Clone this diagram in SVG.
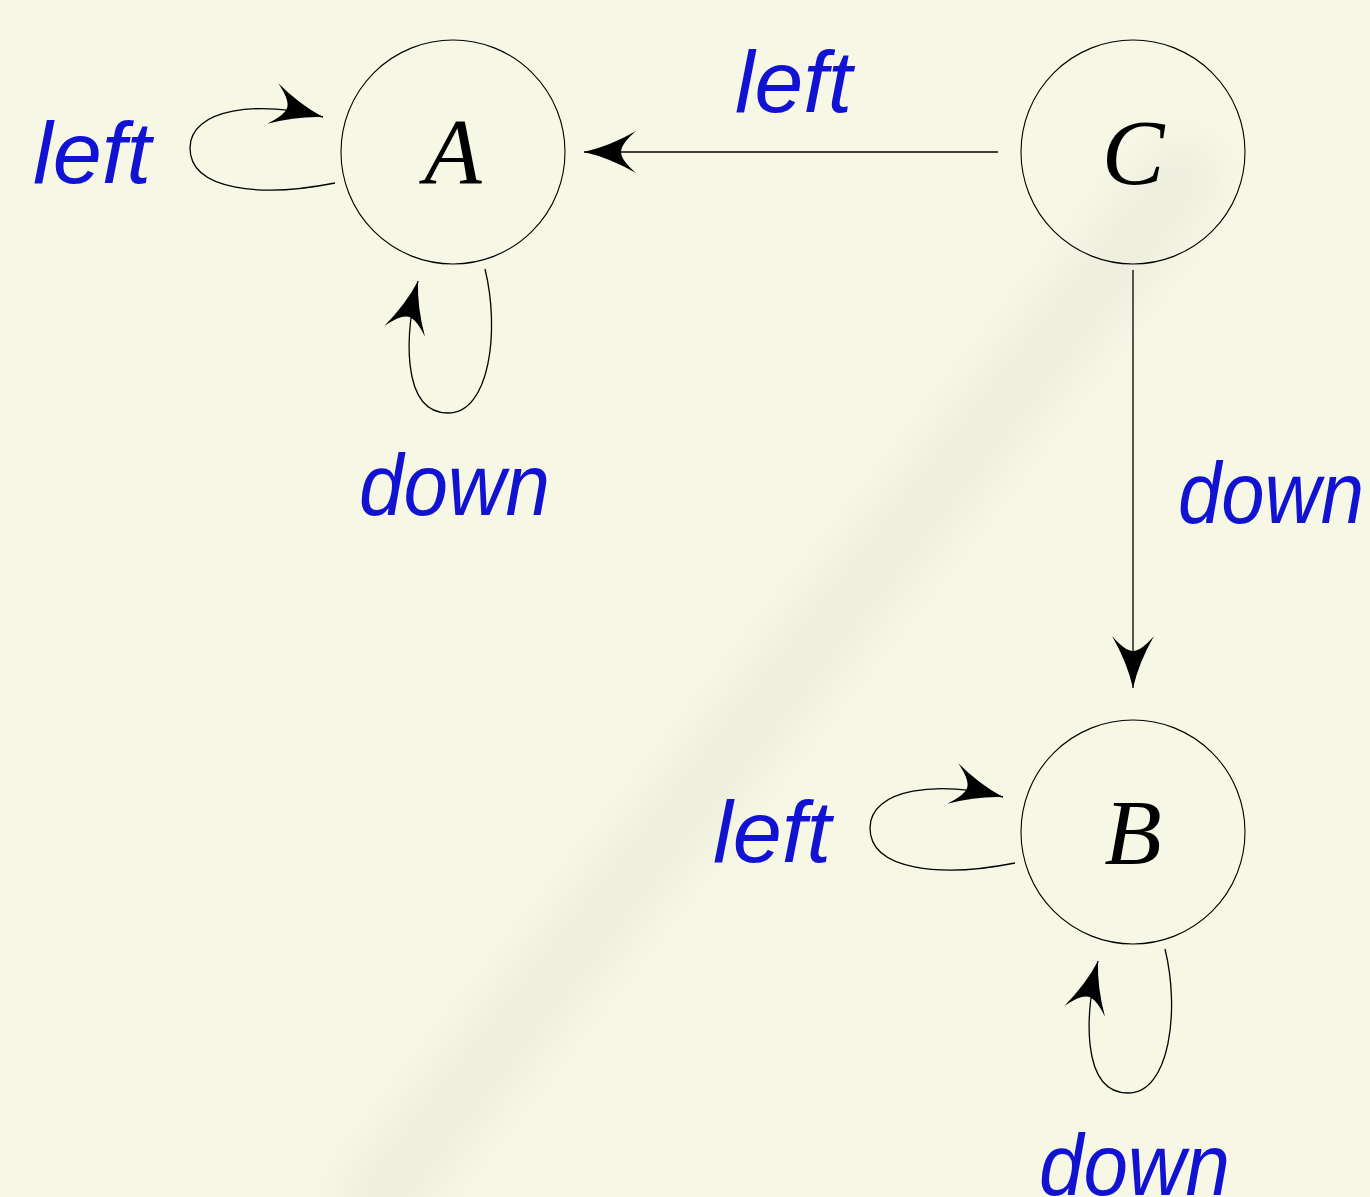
<svg xmlns="http://www.w3.org/2000/svg" width="1370" height="1197" viewBox="0 0 1370 1197">
<style>
.node{fill:none;stroke:#000;stroke-width:1.1}
.edge{fill:none;stroke:#000;stroke-width:1.3}
.lbl{font-family:"Liberation Sans","DejaVu Sans",sans-serif;font-style:italic;font-size:88px;fill:#1212D2}
.math{font-family:"Liberation Serif","DejaVu Serif",serif;font-style:italic;font-size:94px;fill:#000;text-anchor:middle}
</style>
<defs>
<marker id="ah" viewBox="-56 -25 60 50" markerWidth="60" markerHeight="50" refX="0" refY="0" orient="auto" markerUnits="userSpaceOnUse">
<path d="M0,0 Q-26,-6 -52,-21 Q-37,-8 -37,0 Q-37,8 -52,21 Q-26,6 0,0 Z" fill="#000"/>
</marker>
<filter id="soft" x="-20%" y="-20%" width="140%" height="140%">
<feGaussianBlur stdDeviation="18"/>
</filter>
</defs>
<rect width="1370" height="1197" fill="#f6f7e5"/>
<path d="M380,1197 L1180,180" stroke="#ebebdd" stroke-width="80" stroke-linecap="round" filter="url(#soft)" opacity="0.7"/>
<g id="connectors">
<path class="edge" d="M335,183 C260,198 190,190 190,148 C190,108 260,100 323,117" marker-end="url(#ah)"/>
<path class="edge" d="M485,269 C500,330 490,413 448,413 C400,413 405,330 418,281" marker-end="url(#ah)"/>
<path class="edge" d="M998,152 L584,152" marker-end="url(#ah)"/>
<path class="edge" d="M1133,270 L1133,688" marker-end="url(#ah)"/>
<path class="edge" d="M1015,863 C940,878 870,870 870,828 C870,788 940,780 1003,797" marker-end="url(#ah)"/>
<path class="edge" d="M1165,949 C1180,1010 1170,1093 1128,1093 C1080,1093 1085,1010 1098,961" marker-end="url(#ah)"/>
<text class="lbl" x="33" y="183" textLength="118" lengthAdjust="spacingAndGlyphs">left</text>
<text class="lbl" x="735" y="112" textLength="117" lengthAdjust="spacingAndGlyphs">left</text>
<text class="lbl" x="359" y="515" textLength="191" lengthAdjust="spacingAndGlyphs">down</text>
<text class="lbl" x="1178" y="523" textLength="186" lengthAdjust="spacingAndGlyphs">down</text>
<text class="lbl" x="713" y="862" textLength="118" lengthAdjust="spacingAndGlyphs">left</text>
<text class="lbl" x="1039" y="1195" textLength="191" lengthAdjust="spacingAndGlyphs">down</text>
</g>
<g id="A">
<circle class="node" cx="453" cy="152" r="112"/>
<text class="math" x="453" y="183">A</text>
</g>
<g id="C">
<circle class="node" cx="1133" cy="152" r="112"/>
<text class="math" x="1133" y="184">C</text>
</g>
<g id="B">
<circle class="node" cx="1133" cy="832" r="112"/>
<text class="math" x="1133" y="864">B</text>
</g>
</svg>
